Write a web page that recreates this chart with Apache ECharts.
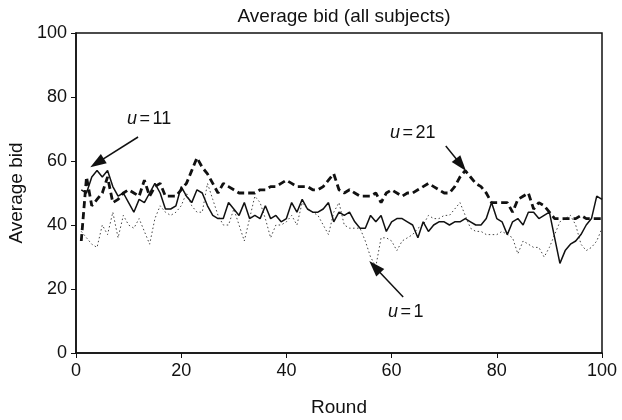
<!DOCTYPE html>
<html>
<head>
<meta charset="utf-8">
<script src="https://cdn.jsdelivr.net/npm/echarts@6/dist/echarts.min.js"></script>
<style>
html, body { margin: 0; padding: 0; background: #fff; }
#main { width: 622px; height: 420px; }
</style>
</head>
<body>
<div id="main"></div>
<script>
// rounds 1..100
var rounds = [];
for (var i = 1; i <= 100; i++) rounds.push(i);

var xTicks = [0, 20, 40, 60, 80, 100];
var yTicks = [0, 20, 40, 60, 80, 100];

// u = 11 (solid)
var u11 = [51, 50, 55, 57, 55, 57, 52, 49, 50, 47,
           44, 48, 47, 50, 53, 50, 45, 45, 46, 52,
           49, 47, 51, 50, 46, 43, 42, 42, 47, 45,
           43, 47, 42, 43, 42, 46, 42, 43, 41, 42,
           47, 44, 48, 45, 44, 44, 45, 47, 41, 44,
           43, 44, 41, 39, 39, 43, 41, 43, 38, 41,
           42, 42, 41, 40, 36, 41, 38, 40, 41, 41,
           40, 41, 41, 42, 41, 40, 40, 42, 47, 42,
           41, 37, 41, 42, 40, 44, 44, 42, 43, 44,
           36, 28, 32, 34, 35, 37, 40, 42, 49, 48];

// u = 21 (dashed)
var u21 = [35, 55, 46, 48, 50, 55, 47, 48, 50, 51,
           50, 49, 54, 49, 52, 53, 49, 49, 49, 51,
           53, 57, 61, 58, 56, 53, 50, 53, 52, 51,
           50, 50, 50, 50, 51, 51, 52, 52, 53, 54,
           53, 52, 52, 52, 51, 51, 52, 54, 56, 51,
           50, 51, 50, 49, 49, 49, 50, 47, 50, 51,
           50, 49, 50, 50, 51, 52, 53, 52, 51, 50,
           50, 52, 55, 57, 55, 53, 52, 50, 47, 47,
           47, 47, 44, 48, 49, 50, 45, 47, 46, 44,
           42, 42, 42, 42, 42, 43, 42, 42, 42, 42];

// u = 1 (dotted)
var u1 = [38, 36, 34, 33, 40, 37, 44, 36, 43, 40,
          39, 42, 38, 34, 42, 46, 44, 43, 44, 46,
          50, 46, 44, 44, 53, 48, 43, 40, 40, 45,
          40, 35, 42, 49, 47, 42, 36, 40, 40, 41,
          43, 40, 47, 45, 44, 43, 40, 37, 44, 47,
          40, 39, 39, 39, 35, 30, 27, 36, 36, 35,
          32, 35, 36, 37, 39, 40, 43, 42, 42, 43,
          43, 45, 47, 43, 39, 38, 38, 37, 37, 37,
          38, 37, 36, 31, 35, 34, 33, 33, 30, 33,
          37, 41, 42, 43, 40, 34, 32, 33, 35, 39];

// annotation arrows in data units: [tail, head]
var arrow11 = [[11.8, 67.5], [4.0, 59.4]];
var arrow21 = [[70.3, 64.7], [73.2, 58.8]];
var arrow1 = [[62.2, 17.5], [56.8, 26.9]];

function pairs(vals) {
    return vals.map(function (v, i) { return [rounds[i], v]; });
}

function arrowLine(a) {
    return {
        silent: true,
        symbol: ["none", "triangle"],
        symbolSize: [11, 16],
        lineStyle: { color: "#111", width: 1.5, type: "solid" },
        label: { show: false },
        animation: false,
        data: [[{ coord: a[0] }, { coord: a[1] }]]
    };
}

function tag(num, x, y) {
    return {
        type: "text", left: x, top: y, silent: true,
        style: {
            text: "{i|u}{s| }={s| }" + num,
            fontFamily: font, fontSize: 18, fill: "#111",
            rich: {
                i: { fontStyle: "italic", fontFamily: font, fontSize: 18 },
                s: { fontSize: 9 }
            }
        }
    };
}

var chart = echarts.init(document.getElementById("main"));
var font = "Liberation Sans, Arial, sans-serif";

chart.setOption({
    animation: false,
    title: {
        text: "Average bid (all subjects)",
        left: 339,
        textAlign: "center",
        top: 2,
        textStyle: { fontFamily: font, fontSize: 19, fontWeight: "normal", color: "#111" }
    },
    grid: {
        left: 76, top: 33, width: 526, height: 320,
        outerBoundsMode: "none",
        show: true, borderColor: "#111", borderWidth: 1.5
    },
    xAxis: {
        type: "value", min: 0, max: 100, interval: 20,
        name: "Round", nameLocation: "middle", nameGap: 45,
        nameTextStyle: { fontFamily: font, fontSize: 19, color: "#111" },
        axisLine: { lineStyle: { color: "#111", width: 1.5 } },
        axisTick: { show: true, inside: false, length: 5, lineStyle: { color: "#111" } },
        axisLabel: {
            fontFamily: font, fontSize: 18, color: "#111", margin: 9,
            formatter: function (v) { return xTicks.indexOf(v) >= 0 ? String(v) : ""; }
        },
        splitLine: { show: false }
    },
    yAxis: {
        type: "value", min: 0, max: 100, interval: 20,
        name: "Average bid", nameLocation: "middle", nameGap: 43, nameRotate: 90,
        nameTextStyle: { fontFamily: font, fontSize: 19, color: "#111" },
        axisLine: { show: true, lineStyle: { color: "#111", width: 1.5 } },
        axisTick: { show: true, inside: false, length: 5, lineStyle: { color: "#111" } },
        axisLabel: {
            fontFamily: font, fontSize: 18, color: "#111", margin: 9,
            formatter: function (v) { return yTicks.indexOf(v) >= 0 ? String(v) : ""; }
        },
        splitLine: { show: false }
    },
    series: [
        {
            name: "u=1", type: "line", data: pairs(u1), symbol: "none",
            lineStyle: { color: "#444", width: 1, type: [1.5, 2.5] },
            markLine: arrowLine(arrow1)
        },
        {
            name: "u=11", type: "line", data: pairs(u11), symbol: "none",
            lineStyle: { color: "#111", width: 1.5, type: "solid" },
            markLine: arrowLine(arrow11)
        },
        {
            name: "u=21", type: "line", data: pairs(u21), symbol: "none",
            lineStyle: { color: "#111", width: 2.8, type: [7, 4] },
            markLine: arrowLine(arrow21)
        }
    ],
    graphic: [
        tag("11", 127, 110),
        tag("21", 390, 124),
        tag("1", 388, 303)
    ]
});

window.addEventListener("resize", function () {
    chart.resize();
});
</script>
</body>
</html>
